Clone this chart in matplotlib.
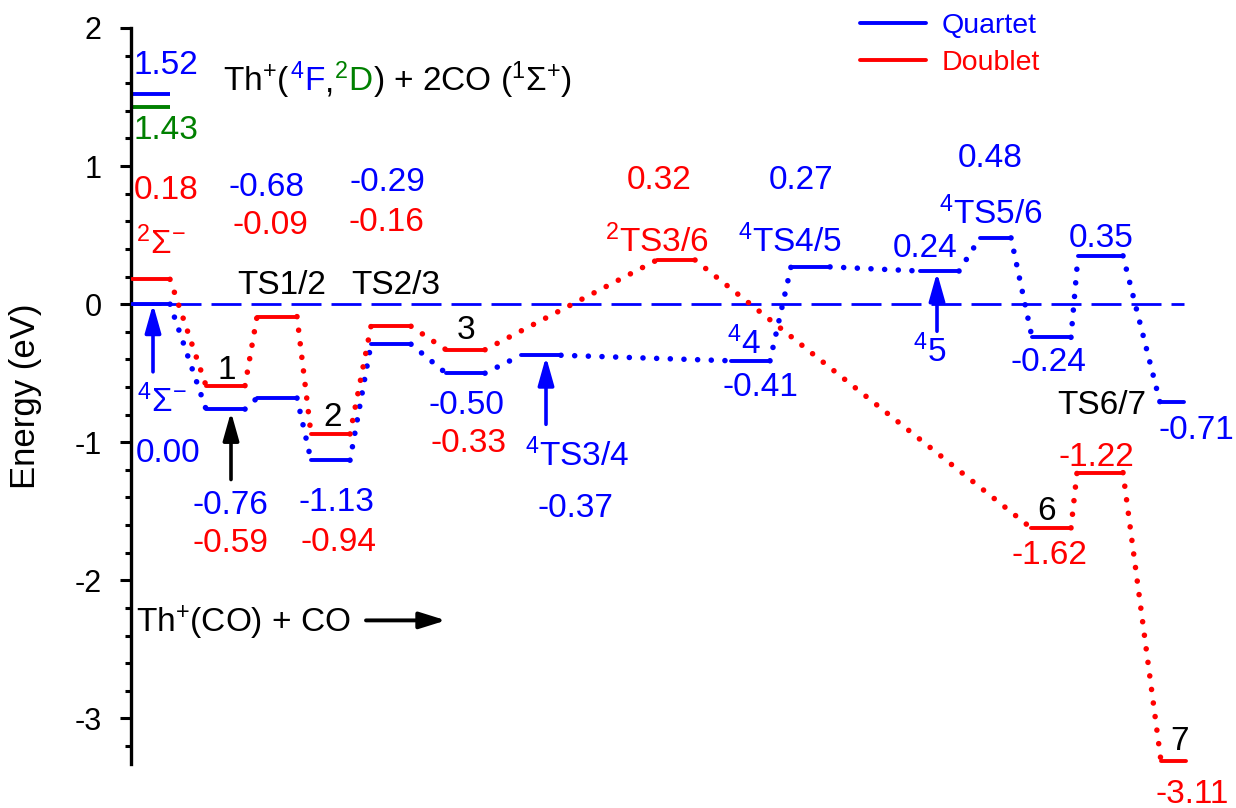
import matplotlib
matplotlib.use("Agg")
import matplotlib.pyplot as plt

plt.rcParams['font.family'] = ['Liberation Sans', 'DejaVu Sans']
plt.rcParams['mathtext.fontset'] = 'custom'
plt.rcParams['mathtext.rm'] = 'Liberation Sans'
plt.rcParams['mathtext.it'] = 'Liberation Sans:italic'
plt.rcParams['mathtext.bf'] = 'Liberation Sans:bold'
plt.rcParams['axes.unicode_minus'] = False

BLUE = '#0000ff'
RED = '#ff0000'
GREEN = '#008000'

# quartet path: energies (eV) and level extents along the reaction coordinate
quartet_E = [0.00, -0.76, -0.68, -1.13, -0.29, -0.50, -0.37, -0.41, 0.27, 0.24, 0.48, -0.24, 0.35, -0.71]
quartet_x = [(132, 170), (206, 245), (257, 297), (311, 350), (371, 411), (446, 485), (521, 561),
             (731, 770), (791, 830), (920, 959), (980, 1011), (1032, 1071), (1078, 1123), (1160, 1184)]
quartet_lab = ['0.00', '-0.76', '-0.68', '-1.13', '-0.29', '-0.50', '-0.37',
               '-0.41', '0.27', '0.24', '0.48', '-0.24', '0.35', '-0.71']
quartet_lab_pos = [(136, -1.14, 'left'), (230, -1.52, 'center'), (267, 0.783, 'center'),
                   (336, -1.50, 'center'), (387, 0.819, 'center'), (466, -0.797, 'center'),
                   (575, -1.543, 'center'), (760, -0.667, 'center'), (801, 0.833, 'center'),
                   (925, 0.341, 'center'), (990, 0.993, 'center'), (1048, -0.486, 'center'),
                   (1101, 0.413, 'center'), (1159, -0.978, 'left')]

# doublet path
doublet_E = [0.18, -0.59, -0.09, -0.94, -0.16, -0.33, 0.32, -1.62, -1.22, -3.31]
doublet_x = [(132, 170), (206, 245), (257, 297), (311, 350), (371, 411), (446, 485),
             (657, 695), (1031, 1071), (1077, 1123), (1161, 1186)]
doublet_lab = ['0.18', '-0.59', '-0.09', '-0.94', '-0.16', '-0.33', '0.32', '-1.62', '-1.22', '-3.11']
doublet_lab_pos = [(134, 0.761, 'left'), (231, -1.797, 'center'), (270, 0.507, 'center'),
                   (338, -1.79, 'center'), (386, 0.529, 'center'), (468, -1.072, 'center'),
                   (659, 0.833, 'center'), (1049, -1.884, 'center'), (1096, -1.174, 'center'),
                   (1192, -3.61, 'center')]

# separated Th+ states
sep_E = [1.52, 1.43]
sep_colors = [BLUE, GREEN]
sep_lab_pos = [(134, 1.667), (134, 1.196)]

# species names
names = [
    (r'$^{2}\Sigma^{-}$', 136, 0.362, RED, 'left'),
    ('TS1/2', 282, 0.072, 'black', 'center'),
    ('TS2/3', 396, 0.072, 'black', 'center'),
    ('1', 227, -0.543, 'black', 'center'),
    (r'$^{4}\Sigma^{-}$', 137, -0.783, BLUE, 'left'),
    ('2', 333, -0.884, 'black', 'center'),
    ('3', 466, -0.254, 'black', 'center'),
    (r'$^{4}$TS3/4', 577, -1.174, BLUE, 'center'),
    (r'$^{2}$TS3/6', 657, 0.377, RED, 'center'),
    (r'$^{4}$TS4/5', 790, 0.377, BLUE, 'center'),
    (r'$^{4}$TS5/6', 991, 0.58, BLUE, 'center'),
    (r'$^{4}$4', 744, -0.362, BLUE, 'center'),
    (r'$^{4}$5', 930, -0.42, BLUE, 'center'),
    ('TS6/7', 1102, -0.797, 'black', 'center'),
    ('6', 1047, -1.565, 'black', 'center'),
    ('7', 1179, -3.225, 'black', 'center'),
    (r'Th$^{+}$(CO) + CO', 136, -2.377, 'black', 'left'),
]

# vertical pointer arrows: x, tail, head, colour
arrows = [(153, -0.49, 0.0, BLUE), (231, -1.27, -0.78, 'black'),
          (546, -0.87, -0.38, BLUE), (937, -0.196, 0.23, BLUE)]

fig = plt.figure(figsize=(12.36, 8.08), dpi=100)
ax = fig.add_axes([131 / 1236, 1 - 764 / 808, (1236 - 131) / 1236, (764 - 28) / 808])
ax.set_xlim(131, 1236)
ax.set_ylim(-3.33, 2.0)

FS = 24
dots = dict(linestyle=(0, (0.01, 2.45)), dash_capstyle='round', lw=4.0)

ax.plot([131, 1184], [0, 0], color=BLUE, lw=2.0, dashes=(10.8, 3.6), zorder=1)

for E, c in zip(sep_E, sep_colors):
    ax.plot(quartet_x[0], [E, E], color=c, lw=2.8, solid_capstyle='butt')
for (x, y), lab, c in zip(sep_lab_pos, ['1.52', '1.43'], sep_colors):
    ax.text(x, y, lab, color=c, fontsize=FS, ha='left', va='baseline')

for E, xs, lab, pos, c, name in [(quartet_E, quartet_x, quartet_lab, quartet_lab_pos, BLUE, 'Quartet'),
                                 (doublet_E, doublet_x, doublet_lab, doublet_lab_pos, RED, 'Doublet')]:
    for i in range(len(E)):
        ax.plot(xs[i], [E[i], E[i]], color=c, lw=2.8, solid_capstyle='round', zorder=3,
                label=name if i == 0 else None)
        if i < len(E) - 1:
            ax.plot([xs[i][1], xs[i + 1][0]], [E[i], E[i + 1]], color=c, zorder=2, **dots)
        px, py, ha = pos[i]
        ax.text(px, py, lab[i], color=c, fontsize=FS, ha=ha, va='baseline')

for txt, x, y, c, ha in names:
    ax.text(x, y, txt, color=c, fontsize=FS, ha=ha, va='baseline')

for x, y0, y1, c in arrows:
    ax.annotate('', xy=(x, y1), xytext=(x, y0),
                arrowprops=dict(arrowstyle='-|>,head_length=0.85,head_width=0.24',
                                color=c, lw=2.6, mutation_scale=20, shrinkA=0, shrinkB=0))

ax.annotate('', xy=(446, -2.29), xytext=(366, -2.29),
            arrowprops=dict(arrowstyle='-|>,head_length=0.8,head_width=0.25',
                            color='black', lw=2.8, mutation_scale=20, shrinkA=0, shrinkB=0))

# multi-coloured reactant label
pieces = [('Th$^{+}$(', 'black'), ('$^{4}$F', BLUE), (',', 'black'), ('$^{2}$D', GREEN),
          (r') + 2CO ($^{1}\Sigma^{+}$)', 'black')]
renderer = fig.canvas.get_renderer()
xcur = 223
for txt, c in pieces:
    t = ax.text(xcur, 1.543, txt, color=c, fontsize=FS, ha='left', va='baseline')
    bb = t.get_window_extent(renderer)
    xcur = ax.transData.inverted().transform((bb.x1, bb.y0))[0]

ax.legend(loc='upper left', bbox_to_anchor=(860 / 1236, 1 - 13 / 808), bbox_transform=fig.transFigure,
          frameon=False, fontsize=20.5, handlelength=2.33, handletextpad=0.55, labelspacing=0.4,
          borderpad=0, borderaxespad=0, labelcolor=[BLUE, RED])

for s in ['top', 'right', 'bottom']:
    ax.spines[s].set_visible(False)
ax.spines['left'].set_linewidth(2.4)
ax.set_xticks([])
ax.set_yticks([-3, -2, -1, 0, 1, 2])
ax.set_yticks([v / 5 for v in range(-16, 10)], minor=True)
ax.tick_params(axis='y', which='major', length=8, width=2.2, labelsize=22, pad=13)
ax.tick_params(axis='y', which='minor', length=4.3, width=2.2)
ax.set_ylabel('Energy (eV)', fontsize=25)
ax.yaxis.set_label_coords(-0.0805, 0.5)

fig.savefig('out.png', dpi=100)
